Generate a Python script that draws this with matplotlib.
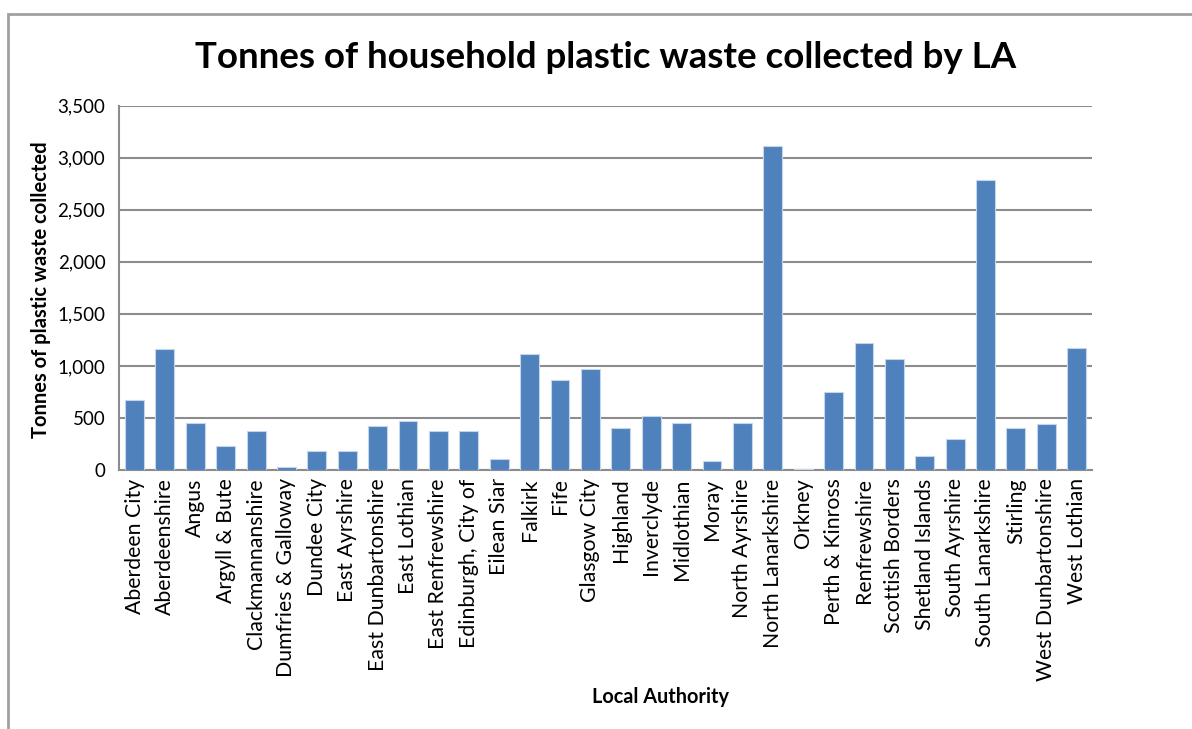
import matplotlib.pyplot as plt
from matplotlib.patches import Rectangle
from matplotlib.ticker import FuncFormatter

# ----------------------------- data by local authority ----------------------------- #
authorities = [
    "Aberdeen City", "Aberdeenshire", "Angus", "Argyll & Bute", "Clackmannanshire",
    "Dumfries & Galloway", "Dundee City", "East Ayrshire", "East Dunbartonshire",
    "East Lothian", "East Renfrewshire", "Edinburgh, City of", "Eilean Siar", "Falkirk",
    "Fife", "Glasgow City", "Highland", "Inverclyde", "Midlothian", "Moray",
    "North Ayrshire", "North Lanarkshire", "Orkney", "Perth & Kinross", "Renfrewshire",
    "Scottish Borders", "Shetland Islands", "South Ayrshire", "South Lanarkshire",
    "Stirling", "West Dunbartonshire", "West Lothian",
]
tonnes = [
    672, 1159, 455, 231, 375,
    29, 186, 186, 420,
    468, 375, 375, 109, 1111,
    862, 970, 404, 516, 452, 90,
    452, 3110, 10, 750, 1220,
    1067, 138, 295, 2783,
    404, 439, 1176,
]
y_ticks = [0, 500, 1000, 1500, 2000, 2500, 3000, 3500]

# --------------------------------- plotting --------------------------------- #
plt.rcParams['font.family'] = ['Lato', 'DejaVu Sans']

fig = plt.figure(figsize=(11.92, 7.29), dpi=100)
ax = fig.add_axes([0.1001, 0.3553, 0.8159, 0.4997])

x = range(len(authorities))
ax.bar(x, tonnes, width=0.62, color="#4F81BD", edgecolor="#C6D6EA", linewidth=0.8, zorder=3)

ax.set_xlim(-0.5, len(authorities) - 0.5)
ax.set_ylim(0, 3500)
ax.set_yticks(y_ticks)
ax.yaxis.set_major_formatter(FuncFormatter(lambda v, p: f"{int(v):,}"))
ax.set_xticks(list(x))
ax.set_xticklabels(authorities, rotation=90, fontsize=15.3)
ax.tick_params(axis="y", labelsize=13.5, length=0, pad=10)
ax.tick_params(axis="x", length=0, pad=6)

ax.grid(axis="y", color="#8C8C8C", linewidth=1.5, zorder=0)
for side in ["top", "right"]:
    ax.spines[side].set_visible(False)
for side in ["left", "bottom"]:
    ax.spines[side].set_color("#8C8C8C")
    ax.spines[side].set_linewidth(1.5)

ax.set_ylabel("Tonnes of plastic waste collected", fontsize=14.5, fontweight="bold")
ax.yaxis.set_label_coords(51 / 1192, 1 - 290 / 729, transform=fig.transFigure)
fig.text(660 / 1192, 1 - 697 / 729, "Local Authority", fontsize=14.3, fontweight="bold",
         ha="center", va="center")

fig.text(606 / 1192, 1 - 58 / 729, "Tonnes of household plastic waste collected by LA",
         fontsize=26.4, fontweight="bold", ha="center", va="center")

# chart area frame
fig.patches.append(Rectangle((8 / 1192, -0.05), 1.1, 1 - 14 / 729 + 0.05,
                             transform=fig.transFigure, fill=False,
                             edgecolor="#A0A0A0", linewidth=2))

fig.savefig("out.png", dpi=100)
